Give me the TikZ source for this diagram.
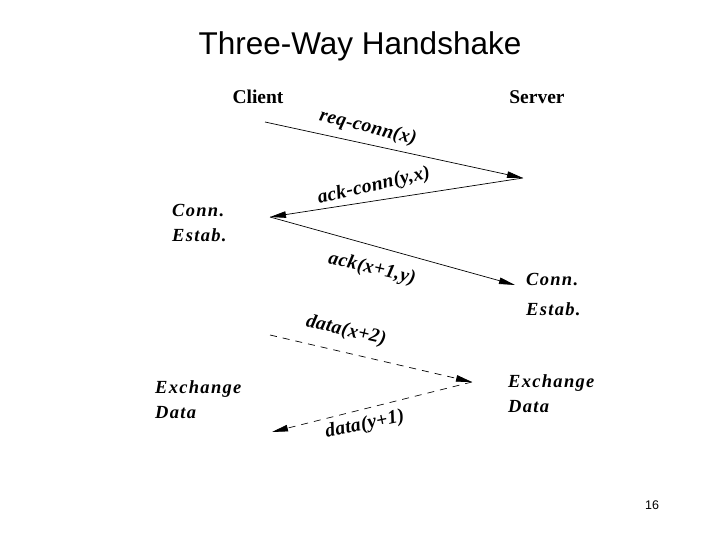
\documentclass[tikz,border=0pt]{standalone}
\usepackage{fontspec}
\setmainfont{Liberation Serif}
\newfontfamily\arialfont{Liberation Sans}
\newfontfamily\wideserif[LetterSpace=7]{Liberation Serif}
\newfontfamily\lblserif[LetterSpace=2]{Liberation Serif}
\usetikzlibrary{arrows.meta}
\begin{document}
\begin{tikzpicture}[x=1pt,y=-1pt,
  msg/.style={line width=0.7pt,-{Triangle[length=16pt,width=6.5pt]}},
  dmsg/.style={msg,dash pattern=on 7pt off 6pt},
  lbl/.style={font=\lblserif\fontsize{19.5}{22}\selectfont\bfseries\itshape,inner sep=0pt},
  side/.style={font=\wideserif\fontsize{18.5}{25}\selectfont\bfseries\itshape,align=left,anchor=west,inner sep=0pt},
  head/.style={font=\fontsize{19.5}{22}\selectfont\bfseries,inner sep=0pt}]
\useasboundingbox (0,0) rectangle (720,540);
\node[font=\arialfont\fontsize{31.5}{34}\selectfont] (title) at (360,46) {Three-Way Handshake};
\node[head] (client) at (258,97) {Client};
\node[head] (server) at (537,97) {Server};
\coordinate (c1) at (265,122);
\coordinate (s1) at (523,178);
\coordinate (c2) at (270,217);
\coordinate (s2) at (515,285);
\coordinate (c3) at (270,335);
\coordinate (s3) at (472,382);
\coordinate (c4) at (272,432);
\draw[msg] (c1) -- (s1);
\draw[msg] (s1) -- (c2);
\draw[msg] (c2) -- (s2);
\draw[dmsg] (c3) -- (s3);
\draw[dmsg] (s3) -- (c4);
\node[lbl,rotate=-14] (l1) at (368,128) {req-conn(x)};
\node[lbl,rotate=13] (l2) at (374,186) {ack-conn(y,x)};
\node[lbl,rotate=-13] (l3) at (372,269) {ack(x+1,y)};
\node[lbl,rotate=-13] (l4) at (346,331) {data(x+2)};
\node[lbl,rotate=12] (l5) at (365,425) {data(y+1)};
\node[side] (ce1) at (172,223) {Conn.\\Estab.};
\node[side,font=\wideserif\fontsize{18.5}{30}\selectfont\bfseries\itshape] (ce2) at (526,295) {Conn.\\Estab.};
\node[side] (ex1) at (155,400) {Exchange\\Data};
\node[side] (ex2) at (508,394) {Exchange\\Data};
\node[font=\arialfont\fontsize{12.5}{14}\selectfont] (pg) at (652,505) {16};
\end{tikzpicture}
\end{document}
